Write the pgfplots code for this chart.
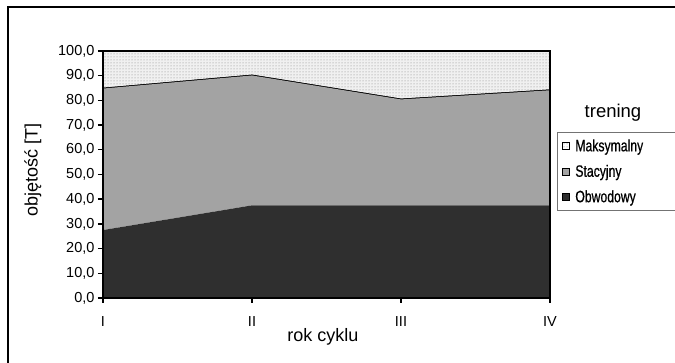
\documentclass[border=0pt]{standalone}
\usepackage{fontspec}
\setmainfont{Liberation Sans}
\newfontfamily\narrowfont[FakeStretch=0.74, FakeBold=0.6]{Liberation Sans}
\usepackage{pgfplots}
\pgfplotsset{compat=1.18}
\usetikzlibrary{patterns}

\definecolor{maxfill}{HTML}{F0F0F0}
\definecolor{stacfill}{HTML}{A3A3A3}
\definecolor{obwfill}{HTML}{2F2F2F}

\begin{document}
\begin{tikzpicture}[x=1pt,y=1pt]
\useasboundingbox (0,0) rectangle (675,363);
% outer chart frame
\draw[line width=2pt] (8,-2) -- (8,356) -- (677,356);
\begin{axis}[
  at={(103pt,65pt)}, anchor=south west,
  scale only axis, width=447pt, height=247pt,
  xmin=0, xmax=3, ymin=0, ymax=100,
  xtick={0,1,2,3}, xticklabels={I,II,III,IV},
  ytick={0,10,...,100},
  xtick pos=lower, ytick pos=left,
  tick align=outside, major tick length=5pt,
  tick style={line width=1.4pt, black},
  axis line style={line width=1.4pt},
  axis on top,
  stack plots=y,
  ticklabel style={font=\fontsize{14.5}{17}\selectfont, text=black},
  yticklabel style={/pgf/number format/.cd, fixed, fixed zerofill, precision=1, use comma, assume math mode=true},
  xticklabel style={yshift=-10pt},
  xlabel={rok cyklu},
  ylabel={objętość [T]},
  label style={font=\fontsize{18}{21}\selectfont},
  xlabel style={at={(axis description cs:0.492,-0.158)}, anchor=center},
  ylabel style={at={(axis description cs:-0.157,0.518)}, anchor=center},
  reverse legend,
  legend cell align=left,
  legend style={at={(axis description cs:1.0157,0.672)}, anchor=north west,
    draw=black!55, line width=0.7pt,
    font=\narrowfont\fontsize{16.5}{18}\selectfont,
    row sep=8pt, inner xsep=5pt, inner ysep=5pt,
    nodes={text width=110pt, inner xsep=5pt}},
]
% Obwodowy
\addplot[fill=obwfill, draw=none,
  legend image code/.code={\draw[draw=black, fill=obwfill, line width=1pt] (0pt,-3.5pt) rectangle (7pt,3.5pt);}]
  coordinates {(0,27.5) (1,37.5) (2,37.5) (3,37.5)} \closedcycle;
\addlegendentry{Obwodowy}
% Stacyjny
\addplot[fill=stacfill, draw=none,
  legend image code/.code={\draw[draw=black, fill=stacfill, line width=1pt] (0pt,-3.5pt) rectangle (7pt,3.5pt);}]
  coordinates {(0,57.3) (1,52.6) (2,42.9) (3,46.6)} \closedcycle;
\addlegendentry{Stacyjny}
% Maksymalny
\addplot[fill=maxfill, draw=black, line width=1.5pt,
  postaction={pattern=dots, pattern color=gray},
  legend image code/.code={\draw[draw=black, fill=white, line width=1pt] (0pt,-3.5pt) rectangle (7pt,3.5pt);}]
  coordinates {(0,15.2) (1,9.9) (2,19.6) (3,15.9)} \closedcycle;
\addlegendentry{Maksymalny}
\end{axis}
\node[font=\fontsize{18.5}{21}\selectfont] at (613,250) {trening};
\end{tikzpicture}
\end{document}
